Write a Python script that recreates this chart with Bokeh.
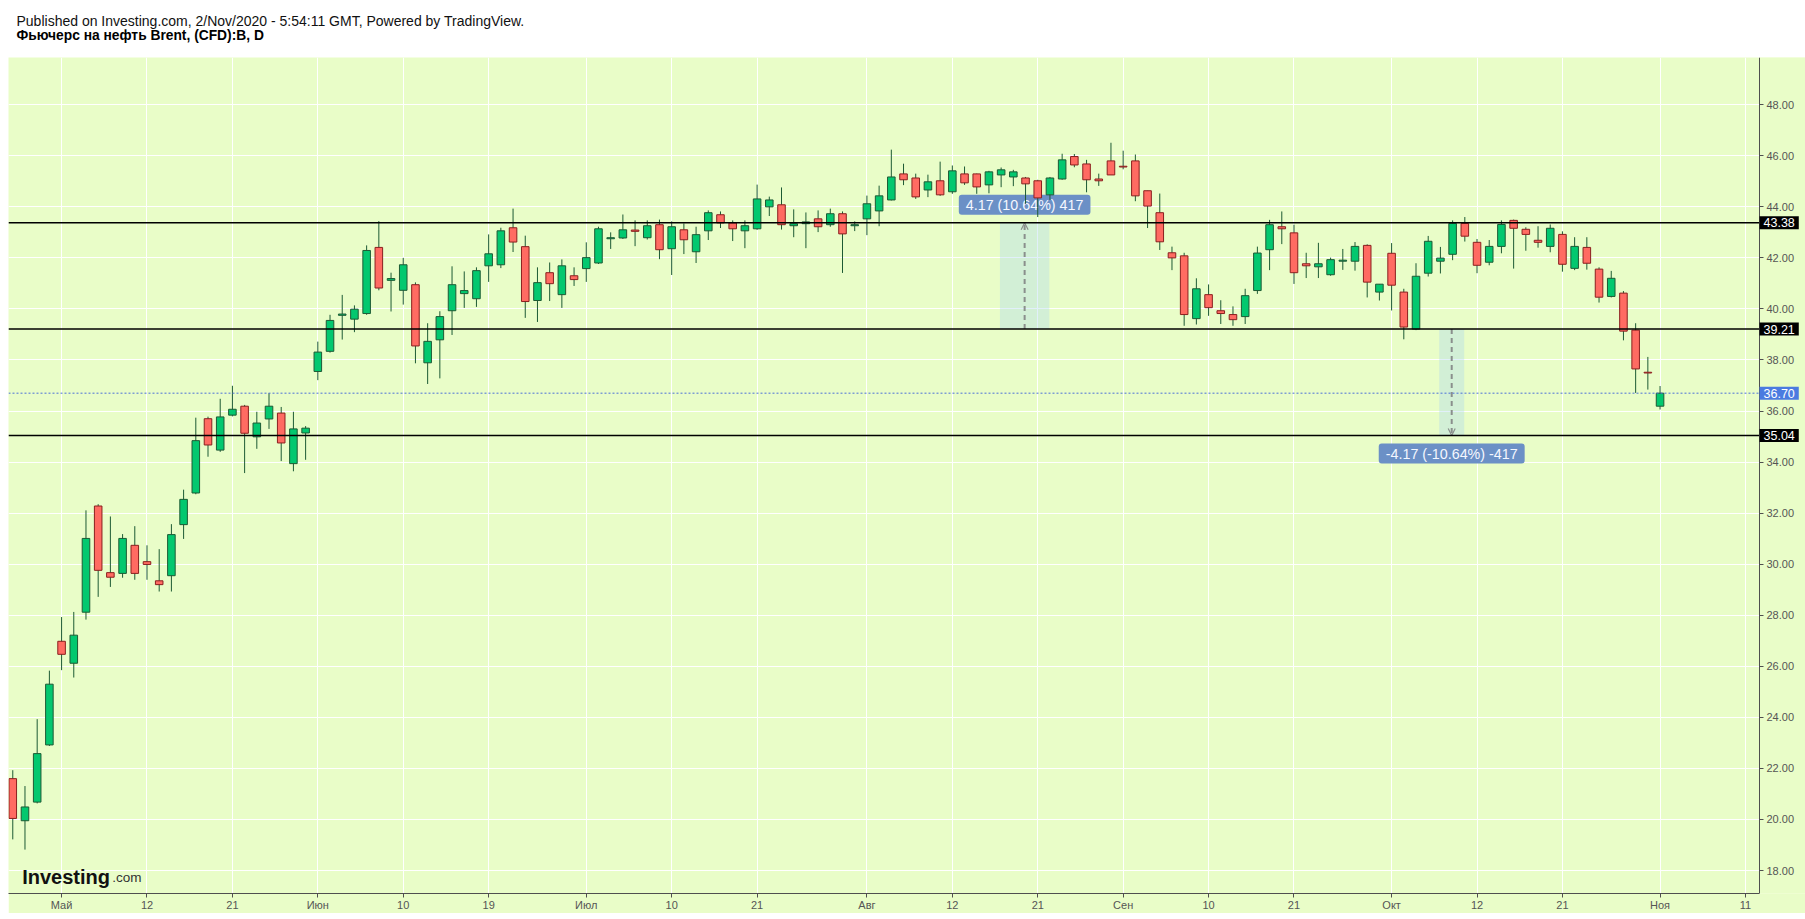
import numpy as np
import pandas as pd
from bokeh.plotting import figure
from bokeh.models import (ColumnDataSource, Range1d, FixedTicker, PrintfTickFormatter,
                          Label, BoxAnnotation, Arrow, OpenHead, LinearAxis)
from bokeh.layouts import column
from bokeh.core.properties import value
from bokeh.embed import file_html
from bokeh.resources import INLINE

# ---------------- data ----------------
first_day = "2020-04-27"
last_day = "2020-11-02"

opens = [21.60, 19.95, 20.68, 22.92, 26.98, 26.12, 28.12, 32.28, 29.67, 29.64,
         30.74, 30.10, 29.35, 29.55, 31.55, 32.79, 35.70, 34.47, 35.84, 36.19,
         34.99, 35.69, 35.92, 33.94, 35.14, 37.55, 38.34, 39.75, 39.60, 39.82,
         42.41, 41.12, 40.73, 40.95, 37.89, 38.79, 39.93, 40.60, 40.40, 41.69,
         41.73, 43.18, 42.44, 40.33, 41.42, 40.56, 41.30, 41.58, 41.80, 42.75,
         42.78, 43.09, 42.79, 43.30, 42.36, 43.10, 42.24, 43.06, 43.69, 43.37,
         43.06, 43.14, 44.00, 44.08, 43.26, 43.34, 43.53, 43.30, 43.73, 43.26,
         43.53, 43.84, 44.27, 45.29, 45.13, 44.66, 45.02, 44.59, 45.29, 45.29,
         44.86, 45.25, 45.17, 45.13, 45.02, 44.47, 45.09, 45.97, 45.68, 45.09,
         45.80, 45.59, 45.80, 44.63, 43.77, 42.20, 42.08, 39.62, 40.56, 39.93,
         39.78, 39.70, 40.72, 42.32, 43.22, 42.98, 41.77, 41.65, 41.34, 41.87,
         41.87, 42.49, 40.66, 42.18, 40.66, 39.21, 41.40, 41.87, 42.14, 43.35,
         42.61, 41.83, 42.45, 43.47, 43.12, 42.69, 42.45, 42.92, 41.59, 42.41,
         41.56, 40.49, 40.62, 39.17, 37.52, 36.19]
highs = [21.93, 21.31, 23.93, 25.83, 27.93, 28.13, 32.11, 32.35, 31.87, 31.18,
         31.49, 30.74, 30.59, 31.57, 32.92, 35.74, 35.78, 36.48, 36.99, 36.24,
         35.97, 36.70, 36.16, 35.97, 35.41, 38.72, 39.77, 40.55, 40.14, 42.49,
         43.44, 41.42, 42.00, 41.04, 39.44, 39.91, 41.67, 41.47, 41.63, 42.92,
         43.18, 43.93, 42.87, 41.63, 41.82, 41.94, 41.63, 42.61, 43.22, 43.00,
         43.70, 43.47, 43.47, 43.50, 43.43, 43.35, 43.22, 43.86, 43.82, 43.47,
         43.47, 44.87, 44.40, 44.76, 43.90, 43.78, 43.86, 43.93, 43.82, 43.43,
         44.44, 44.83, 46.24, 45.69, 45.30, 45.26, 45.77, 45.62, 45.58, 45.30,
         45.41, 45.54, 45.45, 45.17, 45.06, 45.17, 46.08, 46.07, 45.84, 45.30,
         46.51, 46.20, 46.05, 44.63, 44.52, 42.44, 42.20, 41.20, 40.96, 40.34,
         40.10, 40.79, 42.44, 43.49, 43.82, 43.30, 42.20, 42.59, 42.01, 42.35,
         42.62, 42.53, 40.97, 42.58, 40.79, 41.79, 42.86, 42.43, 43.47, 43.60,
         42.74, 42.70, 43.47, 43.50, 43.20, 43.24, 43.31, 43.04, 42.81, 42.81,
         41.63, 41.49, 40.70, 39.44, 38.12, 36.98]
lows = [19.22, 18.82, 20.63, 22.88, 25.85, 25.56, 27.83, 28.72, 29.11, 29.47,
        29.39, 29.39, 28.93, 28.93, 30.99, 32.74, 34.21, 34.40, 35.79, 33.57,
        34.52, 35.30, 34.04, 33.64, 34.09, 37.21, 38.29, 38.80, 39.09, 39.77,
        40.73, 39.90, 40.17, 37.87, 37.06, 37.28, 38.98, 40.04, 40.08, 41.06,
        41.60, 42.23, 39.65, 39.49, 40.31, 40.04, 40.90, 41.06, 41.76, 42.35,
        42.74, 42.46, 42.72, 41.95, 41.33, 42.15, 41.80, 42.70, 43.17, 42.66,
        42.38, 43.10, 43.64, 43.11, 42.81, 42.38, 43.01, 43.22, 41.41, 43.05,
        42.89, 43.24, 44.25, 44.85, 44.31, 44.38, 44.43, 44.51, 44.86, 44.51,
        44.53, 44.77, 44.81, 44.12, 43.60, 44.27, 45.06, 45.55, 44.57, 44.82,
        45.25, 45.47, 44.22, 43.17, 42.31, 41.52, 39.34, 39.39, 39.73, 39.41,
        39.34, 39.41, 40.59, 41.52, 42.54, 40.98, 41.21, 41.21, 41.30, 41.53,
        41.50, 40.45, 40.33, 39.94, 38.81, 39.17, 41.27, 41.39, 41.91, 42.64,
        41.40, 41.71, 42.18, 41.58, 42.28, 42.40, 42.22, 41.46, 41.52, 41.54,
        40.25, 40.45, 38.77, 36.71, 36.84, 36.06]
closes = [20.04, 20.49, 22.58, 25.30, 26.47, 27.22, 31.01, 29.76, 29.49, 31.01,
          29.64, 29.99, 29.20, 31.16, 32.54, 34.84, 34.67, 35.77, 36.07, 35.13,
          35.53, 36.19, 34.75, 35.30, 35.33, 38.31, 39.55, 39.80, 39.99, 42.29,
          40.82, 41.19, 41.73, 38.55, 38.73, 39.70, 40.95, 40.72, 41.50, 42.16,
          43.06, 42.62, 40.29, 41.03, 40.99, 41.69, 41.15, 42.01, 43.14, 42.79,
          43.10, 43.04, 43.26, 42.32, 43.22, 42.71, 42.91, 43.77, 43.37, 43.14,
          43.26, 44.31, 44.27, 43.30, 43.34, 43.41, 43.22, 43.73, 42.94, 43.30,
          44.12, 44.43, 45.17, 45.06, 44.39, 44.98, 44.47, 45.41, 44.94, 44.78,
          45.37, 45.45, 45.37, 44.90, 44.35, 45.13, 45.84, 45.64, 45.06, 45.02,
          45.25, 45.56, 44.43, 44.03, 42.63, 42.00, 39.78, 40.79, 40.05, 39.82,
          39.58, 40.52, 42.19, 43.30, 43.14, 41.42, 41.69, 41.77, 41.93, 41.91,
          42.45, 41.05, 40.97, 40.93, 39.29, 41.28, 42.65, 41.99, 43.35, 42.85,
          41.71, 42.45, 43.31, 43.16, 42.92, 42.61, 43.16, 41.75, 42.45, 41.79,
          40.46, 41.20, 39.13, 37.65, 37.49, 36.70]

level_prices = [43.38, 39.21, 35.04]
last_price = 36.70

price_ticks = [18, 20, 22, 24, 26, 28, 30, 32, 34, 36, 38, 40, 42, 44, 46, 48]

tick_dates = ["2020-05-01", "2020-05-12", "2020-05-21", "2020-06-01", "2020-06-10",
              "2020-06-19", "2020-07-01", "2020-07-10", "2020-07-21", "2020-08-03",
              "2020-08-12", "2020-08-21", "2020-09-01", "2020-09-10", "2020-09-21",
              "2020-10-01", "2020-10-12", "2020-10-21", "2020-11-02", "2020-11-11"]
tick_labels = ["Май", "12", "21", "Июн", "10", "19", "Июл", "10", "21", "Авг",
               "12", "21", "Сен", "10", "21", "Окт", "12", "21", "Ноя", "11"]

measure_from_dates = ["2020-08-18", "2020-10-07"]
measure_to_dates = ["2020-08-24", "2020-10-09"]
measure_from_prices = [39.21, 39.21]
measure_to_prices = [43.38, 35.04]

header_line1 = "Published on Investing.com, 2/Nov/2020 - 5:54:11 GMT, Powered by TradingView."
header_line2 = "Фьючерс на нефть Brent, (CFD):B, D"

# ---------------- styling ----------------
BG = "#e9fdc8"
GREEN = "#03c86f"
GREEN_EDGE = "#1d5a34"
RED = "#ff6b62"
RED_EDGE = "#8a1f1f"
WICK = "#1d5a34"
AXIS = "#4f4f4f"
TICK_TXT = "#555555"
FONT = "Liberation Sans"

PAGE_W = 1805
H_HEAD = 57
LEFT_PAD = 8
W = PAGE_W - LEFT_PAD          # main figure width (frame spans it all)
H_MAIN = 856
FRAME_H = 837
AXIS_PX = 1751                 # pixel position of the price axis inside the frame
X_LO, X_AXIS = -0.35, 143.15
PXU = AXIS_PX / (X_AXIS - X_LO)
X_HI = X_LO + W / PXU
Y_LO, Y_HI = 17.10, 49.85
PYU = FRAME_H / (Y_HI - Y_LO)

# ---------------- header ----------------
head = figure(width=PAGE_W, height=H_HEAD, x_range=Range1d(0, PAGE_W),
              y_range=Range1d(H_HEAD, 0), output_backend="svg", toolbar_location=None,
              min_border=0, x_axis_location=None, y_axis_location=None,
              outline_line_color=None, background_fill_color="white",
              border_fill_color="white")
head.grid.visible = False
head.text(x=[16], y=[20], text=[header_line1], text_font=value(FONT),
          text_font_size="14px", text_baseline="middle", text_color="#111111")
head.text(x=[16], y=[35], text=[header_line2], text_font=value(FONT),
          text_font_size="13.8px", text_font_style="bold", text_baseline="middle",
          text_color="#000000")

# ---------------- main chart ----------------
dates = pd.bdate_range(first_day, last_day).values.astype("datetime64[D]")
xs = np.busday_count(np.datetime64(first_day), dates)
o = np.array(opens)
c = np.array(closes)
up = c >= o
src = ColumnDataSource(dict(
    x=xs, h=highs, l=lows,
    top=np.maximum(o, c), bottom=np.minimum(o, c),
    fill=np.where(up, GREEN, RED), edge=np.where(up, GREEN_EDGE, RED_EDGE),
))

p = figure(width=W, height=H_MAIN, x_range=Range1d(X_LO, X_HI), y_range=Range1d(Y_LO, Y_HI),
           y_axis_location="right", output_backend="svg", toolbar_location=None,
           min_border_left=0, min_border_right=0, min_border_top=0,
           min_border_bottom=H_MAIN - FRAME_H, margin=(0, 0, 0, LEFT_PAD),
           background_fill_color=BG, border_fill_color=BG, outline_line_color=None)

tick_x = [int(v) for v in np.busday_count(np.datetime64(first_day),
                                           np.array(tick_dates, dtype="datetime64[D]"))]
p.xaxis.ticker = FixedTicker(ticks=tick_x)
p.xaxis.major_label_overrides = {tx: lab for tx, lab in zip(tick_x, tick_labels)}
p.xaxis.bounds = (X_LO, X_AXIS)
p.yaxis.ticker = FixedTicker(ticks=price_ticks)
p.yaxis.formatter = PrintfTickFormatter(format="%.2f")
p.yaxis.fixed_location = X_AXIS
p.xgrid.ticker = FixedTicker(ticks=tick_x)
p.ygrid.ticker = FixedTicker(ticks=price_ticks)
p.grid.grid_line_color = "white"
p.grid.grid_line_width = 1

for ax in (p.xaxis, p.yaxis):
    ax.axis_line_color = AXIS
    ax.major_tick_line_color = AXIS
    ax.minor_tick_line_color = None
    ax.major_tick_in = 0
    ax.major_tick_out = 4
    ax.major_label_text_font = FONT
    ax.major_label_text_font_size = "11px"
    ax.major_label_text_color = TICK_TXT
p.yaxis.major_label_standoff = 3
p.xaxis.major_label_standoff = 1

# month names drawn bold on top of the date axis (zero-size, fixed at the frame bottom)
month_x = [tx for tx, lab in zip(tick_x, tick_labels) if not lab.isdigit()]
month_axis = LinearAxis(ticker=FixedTicker(ticks=month_x),
                        major_label_overrides={tx: lab for tx, lab in zip(tick_x, tick_labels)
                                               if not lab.isdigit()},
                        fixed_location=Y_LO, axis_line_color=None,
                        major_tick_line_color=None, minor_tick_line_color=None,
                        major_tick_in=0, major_tick_out=4, major_label_standoff=1,
                        major_label_text_font=FONT, major_label_text_font_size="11px",
                        major_label_text_font_style="bold", major_label_text_color="#444444")
p.add_layout(month_axis, "below")

# price-scale strip to the right of the axis (hides grid lines there)
p.add_layout(BoxAnnotation(left=X_AXIS, fill_color=BG, fill_alpha=1, line_color=None,
                           level="underlay"))

# measurement boxes (under candles)
for fd, td, fp, tp in zip(measure_from_dates, measure_to_dates,
                          measure_from_prices, measure_to_prices):
    x0 = int(np.busday_count(np.datetime64(first_day), np.datetime64(fd)))
    x1 = int(np.busday_count(np.datetime64(first_day), np.datetime64(td)))
    left, right = x0 - 0.1, x1 - 0.05
    xm = (left + right) / 2
    p.add_layout(BoxAnnotation(left=left, right=right, bottom=min(fp, tp),
                               top=max(fp, tp), fill_color="#a9d3f2", fill_alpha=0.35,
                               line_color=None, level="underlay"))
    p.add_layout(Arrow(end=OpenHead(size=7, line_color="#8a8f8c", line_width=1.2),
                       x_start=xm, y_start=fp, x_end=xm, y_end=tp,
                       line_color="#8a8f8c", line_width=2, line_dash="5 4",
                       level="underlay"))
    diff = tp - fp
    txt = f"{diff:.2f} ({diff / fp * 100:.2f}%) {int(round(diff * 100))}"
    above = diff > 0
    p.add_layout(Label(x=xm, y=tp, text=txt, text_align="center",
                       text_baseline="bottom" if above else "top",
                       y_offset=8 if above else -8,
                       text_font=FONT, text_font_size="14.3px", text_color="#f4f7ff",
                       background_fill_color="#6b90c6", padding=(7, 2),
                       border_radius=3, level="underlay"))

# candles
p.segment(x0="x", y0="l", x1="x", y1="h", line_color=WICK, line_width=1, source=src)
p.vbar(x="x", width=0.62, top="top", bottom="bottom", fill_color="fill",
       line_color="edge", line_width=1, source=src)

# level lines and last price line (up to the price axis)
n_lv = len(level_prices)
p.segment(x0=[X_LO] * n_lv, x1=[X_AXIS] * n_lv, y0=level_prices, y1=level_prices,
          line_color="black", line_width=1.5)
p.segment(x0=[X_LO], x1=[X_AXIS], y0=[last_price], y1=[last_price],
          line_color="#4a6fd8", line_width=1, line_dash="2 2")

# price labels on the price scale
for lvl in level_prices:
    p.add_layout(Label(x=X_AXIS, y=lvl, text=f"{lvl:.2f}", text_align="left",
                       text_baseline="middle", text_font=FONT,
                       text_font_size="12.5px", text_color="white",
                       background_fill_color="black", padding=(4, 2), level="overlay"))
p.add_layout(Label(x=X_AXIS, y=last_price, text=f"{last_price:.2f}", text_align="left",
                   text_baseline="middle", text_font=FONT,
                   text_font_size="12.5px", text_color="white",
                   background_fill_color="#4b7be0", padding=(4, 2), level="overlay"))

# watermark logo
p.add_layout(Label(x=X_LO + 13.7 / PXU, y=Y_LO + 16.5 / PYU, text="Investing",
                   text_font=FONT, text_font_style="bold", text_font_size="20px",
                   text_color="#111111", text_baseline="alphabetic"))
p.add_layout(Label(x=X_LO + 103.7 / PXU, y=Y_LO + 16.5 / PYU, text=".com",
                   text_font=FONT, text_font_size="13.5px",
                   text_color="#333333", text_baseline="alphabetic"))

page = column(head, p, spacing=0)
open("out.html", "w").write(file_html(page, INLINE))
